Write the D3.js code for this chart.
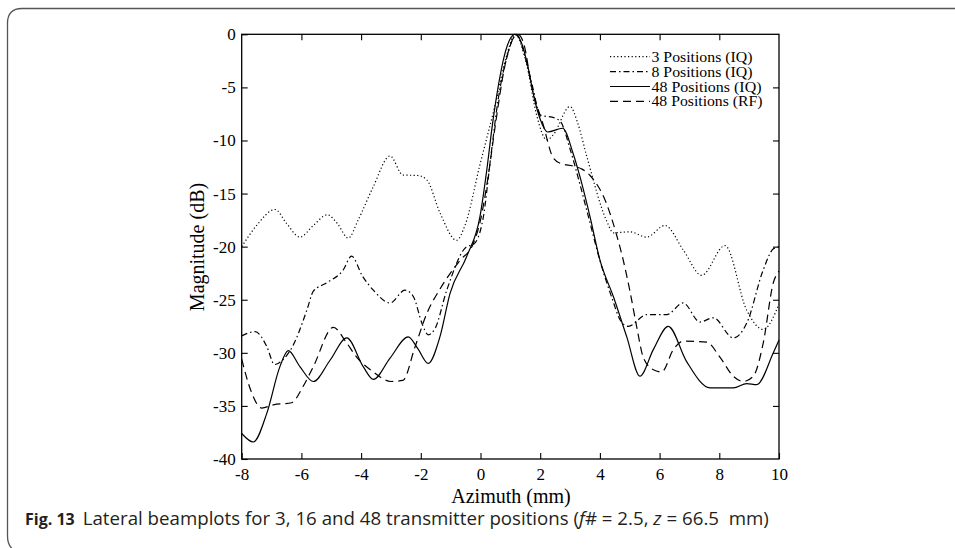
<!DOCTYPE html>
<html>
<head>
<meta charset="utf-8">
<script src="https://cdn.jsdelivr.net/npm/d3@7"></script>
<style>
  body { margin: 0; background: #fff; }
  svg { display: block; }
</style>
</head>
<body>
<script>
// Values (azimuth in mm, magnitude in dB)
const xTicks = [-8, -6, -4, -2, 0, 2, 4, 6, 8, 10];
const yTicks = [0, -5, -10, -15, -20, -25, -30, -35, -40];

const legendLabels = ["3 Positions (IQ)", "8 Positions (IQ)", "48 Positions (IQ)", "48 Positions (RF)"];

const az3 = [-8, -7.5, -6.88, -6.5, -6.05, -5.6, -5.13, -4.8, -4.43, -4.1, -3.6, -3.03, -2.6, -2.1, -1.8, -1.36, -0.8, -0.52, -0.02, 0.49, 0.88, 1.16, 1.55, 1.88, 2.22, 2.43, 3.0, 3.25, 3.56, 4.23, 4.45, 5.0, 5.57, 6.18, 6.79, 7.41, 8.19, 8.92, 9.47, 10];
const mag3 = [-20.0, -18.0, -16.5, -17.8, -19.1, -18.0, -17.0, -17.8, -19.2, -17.5, -14.4, -11.46, -13.25, -13.3, -13.7, -16.8, -19.4, -18.0, -12.3, -6.66, -1.95, 0, -2.9, -7.6, -9.95, -9.5, -6.8, -8.3, -11.5, -17.6, -18.7, -18.6, -19.1, -18.0, -20.3, -22.7, -19.9, -26.0, -27.8, -25.4];

const az8 = [-8, -7.55, -7.16, -6.9, -6.6, -6.27, -5.82, -5.6, -5.15, -4.6, -4.32, -3.95, -3.59, -3.03, -2.53, -2.25, -1.95, -1.75, -1.52, -1.13, -0.46, -0.24, 0.09, 0.32, 0.6, 0.9, 1.2, 1.5, 1.75, 2.0, 2.5, 2.7, 3.0, 3.3, 3.6, 4.0, 4.4, 4.7, 4.95, 5.57, 6.24, 6.79, 7.35, 7.8, 8.47, 8.92, 9.47, 9.81, 10];
const mag8 = [-28.4, -28.0, -29.4, -31.1, -30.6, -29.25, -26.0, -24.2, -23.4, -22.2, -20.9, -22.8, -24.1, -25.3, -24.1, -24.7, -27.3, -28.3, -27.7, -24.1, -20.0, -19.8, -17.3, -12.1, -6.0, -2.0, 0, -2.2, -5.0, -7.6, -7.9, -8.3, -10.8, -13.8, -17.0, -21.3, -24.8, -27.0, -27.5, -26.4, -26.4, -25.3, -27.1, -26.7, -28.6, -27.2, -22.2, -20.2, -20.0];

const az48 = [-8, -7.61, -7.16, -6.72, -6.44, -6.05, -5.6, -5.04, -4.48, -3.93, -3.59, -3.03, -2.42, -2.1, -1.75, -1.36, -1.02, -0.46, -0.02, 0.2, 0.4, 0.6, 0.8, 1.0, 1.15, 1.4, 1.6, 1.8, 2.0, 2.25, 2.75, 3.1, 3.35, 3.67, 4.0, 4.45, 4.9, 5.34, 5.79, 6.29, 6.9, 7.69, 8.47, 8.92, 9.25, 9.81, 10];
const mag48 = [-37.6, -38.4, -35.7, -31.3, -29.8, -31.3, -32.7, -30.7, -28.6, -31.3, -32.5, -30.5, -28.5, -29.6, -31.0, -28.5, -24.4, -20.9, -17.2, -13.0, -8.5, -4.8, -2.0, -0.4, 0, -1.0, -3.2, -6.0, -8.0, -9.2, -8.85, -11.2, -13.6, -17.2, -21.25, -24.7, -28.5, -32.2, -29.7, -27.5, -30.8, -33.3, -33.3, -32.9, -33.0, -30.0, -28.8];

const azRF = [-8, -7.7, -7.33, -6.94, -6.33, -5.95, -5.6, -4.93, -4.5, -4.15, -3.59, -3.0, -2.6, -2.2, -1.8, -1.36, -0.69, -0.24, 0.0, 0.25, 0.5, 0.8, 1.0, 1.25, 1.45, 1.72, 2.1, 2.43, 2.72, 3.1, 3.4, 3.67, 4.2, 4.56, 4.78, 5.0, 5.23, 5.45, 5.79, 6.07, 6.46, 6.79, 7.58, 8.02, 8.47, 8.8, 9.14, 9.47, 9.81, 10];
const magRF = [-30.6, -33.5, -35.2, -34.9, -34.7, -33.2, -31.3, -27.6, -29.0, -30.4, -31.8, -32.7, -32.6, -29.5, -26.3, -24.0, -21.3, -19.7, -17.5, -13.5, -8.5, -3.2, -1.0, 0, -0.9, -5.0, -8.5, -11.6, -12.2, -12.4, -12.7, -13.3, -15.8, -18.9, -21.25, -24.1, -27.5, -30.4, -31.6, -31.8, -29.7, -28.9, -29.0, -30.4, -32.2, -32.7, -32.2, -29.1, -23.4, -22.3];

const config = {
  width: 955,
  height: 548,
  left: 241.7,
  right: 779,
  top: 34.3,
  bottom: 459
};

const serif = "'Liberation Serif', 'Times New Roman', serif";

const series = [
  { x: az3, y: mag3, dash: "1.2,2.4" },
  { x: az8, y: mag8, dash: "6,3,1.5,3" },
  { x: az48, y: mag48, dash: null },
  { x: azRF, y: magRF, dash: "8,5" }
];

// Define the canvas
const svg = d3
  .select("body")
  .append("svg")
  .attr("width", config.width)
  .attr("height", config.height);

// Figure frame (rounded corners on the left)
svg
  .append("path")
  .attr("d", "M955,8.5 L22,8.5 Q7.5,8.5 7.5,23 L7.5,536 Q7.5,546 14,550")
  .attr("fill", "none")
  .attr("stroke", "#555")
  .attr("stroke-width", 1.3);

// Scales
const x = d3.scaleLinear().domain([-8, 10]).range([config.left, config.right]);
const y = d3.scaleLinear().domain([-40, 0]).range([config.bottom, config.top]);

const plot = svg.append("g");

// Axes with inward ticks on all four sides
const axisStyle = g => {
  g.select(".domain").remove();
  g.selectAll("line").attr("stroke", "#000").attr("stroke-width", 1.1);
  g.selectAll("text")
    .attr("font-family", serif)
    .attr("font-size", "17px")
    .attr("fill", "#000");
};

plot
  .append("g")
  .attr("transform", `translate(0,${config.bottom})`)
  .call(d3.axisBottom(x).tickValues(xTicks).tickSizeInner(-6).tickSizeOuter(0).tickPadding(9))
  .call(axisStyle)
  .selectAll("text")
  .text(d => String(d));

plot
  .append("g")
  .attr("transform", `translate(0,${config.top})`)
  .call(d3.axisTop(x).tickValues(xTicks.slice(1, -1)).tickSizeInner(-6).tickSizeOuter(0).tickFormat(""))
  .call(axisStyle);

plot
  .append("g")
  .attr("transform", `translate(${config.left},0)`)
  .call(d3.axisLeft(y).tickValues(yTicks).tickSizeInner(-6).tickSizeOuter(0).tickPadding(6))
  .call(axisStyle)
  .selectAll("text")
  .text(d => String(d));

plot
  .append("g")
  .attr("transform", `translate(${config.right},0)`)
  .call(d3.axisRight(y).tickValues(yTicks.slice(1, -1)).tickSizeInner(-6).tickSizeOuter(0).tickFormat(""))
  .call(axisStyle);

// Box
plot
  .append("rect")
  .attr("x", config.left)
  .attr("y", config.top)
  .attr("width", config.right - config.left)
  .attr("height", config.bottom - config.top)
  .attr("fill", "none")
  .attr("stroke", "#000")
  .attr("stroke-width", 1.3);

// Curves
const line = d3
  .line()
  .x(d => x(d[0]))
  .y(d => y(d[1]))
  .curve(d3.curveMonotoneX);

plot
  .append("g")
  .selectAll("path")
  .data(series)
  .enter()
  .append("path")
  .attr("d", s => line(s.x.map((v, i) => [v, s.y[i]])))
  .attr("fill", "none")
  .attr("stroke", "#000")
  .attr("stroke-width", 1.2)
  .attr("stroke-dasharray", s => s.dash);

// Legend
const legend = plot
  .append("g")
  .selectAll("g")
  .data(series)
  .enter()
  .append("g")
  .attr("transform", (d, i) => `translate(610,${56.7 + i * 14.9})`);

legend
  .append("line")
  .attr("x1", 0)
  .attr("x2", 40)
  .attr("stroke", "#000")
  .attr("stroke-width", 1.2)
  .attr("stroke-dasharray", d => d.dash);

legend
  .append("text")
  .text((d, i) => legendLabels[i])
  .attr("x", 41.5)
  .attr("y", 5)
  .attr("font-family", serif)
  .attr("font-size", "15.5px")
  .attr("textLength", (d, i) => [101, 101, 110, 111][i])
  .attr("lengthAdjust", "spacingAndGlyphs");

// Axis titles
svg
  .append("text")
  .text("Azimuth (mm)")
  .attr("x", 511)
  .attr("y", 503)
  .attr("text-anchor", "middle")
  .attr("font-family", serif)
  .attr("font-size", "20px");

svg
  .append("text")
  .text("Magnitude (dB)")
  .attr("transform", "translate(204,247) rotate(-90)")
  .attr("text-anchor", "middle")
  .attr("font-family", serif)
  .attr("font-size", "20px");

// Caption
const caption = svg
  .append("text")
  .attr("x", 25)
  .attr("y", 525)
  .attr("font-family", "'Open Sans', 'Noto Sans', sans-serif")
  .attr("font-size", "18.7px")
  .attr("fill", "#231f20");

caption.append("tspan").attr("font-weight", "bold").attr("font-size", "16px").text("Fig. 13");
caption.append("tspan").attr("dx", 8).text("Lateral beamplots for 3, 16 and 48 transmitter positions (");
caption.append("tspan").attr("font-style", "italic").text("f");
caption.append("tspan").text("# = 2.5, ");
caption.append("tspan").attr("font-style", "italic").text("z");
caption.append("tspan").text(" = 66.5\u00a0 mm)");
</script>
</body>
</html>
